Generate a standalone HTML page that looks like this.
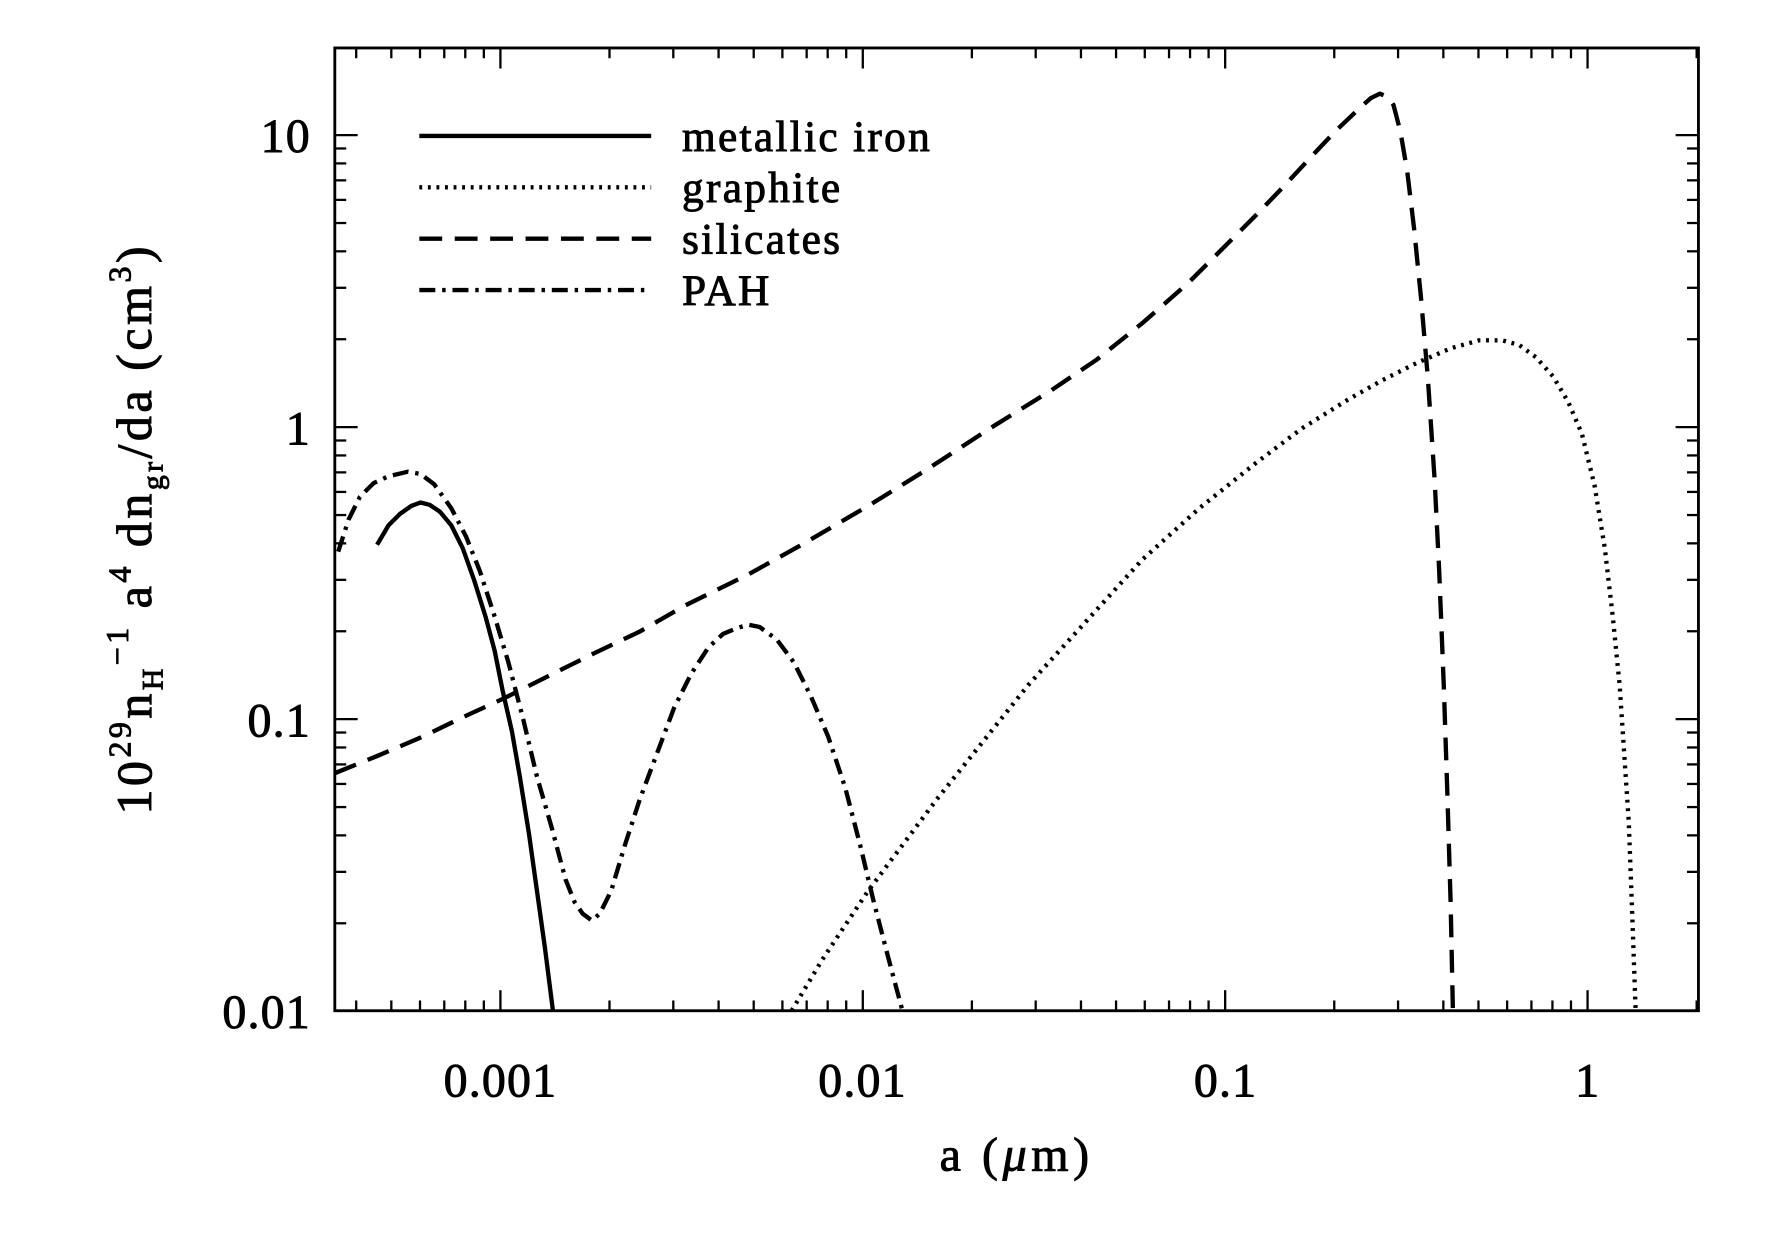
<!DOCTYPE html>
<html><head><meta charset="utf-8"><style>
html,body{margin:0;padding:0;background:#fff}
svg{display:block}
text{font-family:"Liberation Serif",serif;fill:#000;stroke:#000;stroke-width:0.8}
</style></head><body>
<svg width="1782" height="1254" viewBox="0 0 1560 1098" xmlns="http://www.w3.org/2000/svg">
<rect x="0" y="0" width="1560" height="1098" fill="#fff"/>
<g id="ticks" stroke="#000" stroke-width="2" fill="none"></g>
<rect x="293" y="42" width="1194" height="843" fill="none" stroke="#000" stroke-width="2.5"/>
<g fill="none" stroke="#000" stroke-width="3.8" stroke-linejoin="round">
<polyline points="330,477 340,460 350,450 360,443 368,440 376,442 385,448 395,460 405,480 415,508 425,540 433,570 440,605 448,640 455,680 463,730 470,780 477,830 484,885"/>
<polyline stroke-dasharray="2.5,5" points="693,885 705,865 720,840 740,810 760,780 790,740 820,700 860,650 900,600 950,545 1000,490 1050,445 1100,405 1140,375 1180,350 1210,333 1240,318 1270,305 1295,298 1315,298 1330,302 1345,313 1360,330 1373,352 1385,380 1396,425 1405,480 1412,540 1418,600 1422,660 1426,720 1429,800 1432,885"/>
<polyline stroke-dasharray="20,11" points="293,677 330,662 370,645 405,628 440,612 480,592 520,572 560,553 600,530 655,503 700,478 760,443 810,412 870,373 920,342 960,315 1000,283 1040,248 1073,215 1100,188 1125,162 1150,135 1170,114 1190,95 1200,86 1208,82 1215,85 1220,92 1226,115 1232,150 1238,200 1244,260 1250,330 1256,420 1260,500 1264,600 1267,690 1270,790 1272,885"/>
<polyline stroke-dasharray="14,6,3,6" points="296,483 305,455 315,435 327,423 340,417 357,413 368,415 380,424 395,445 408,470 420,500 433,540 445,580 458,630 470,680 483,725 495,770 503,790 510,800 518,806 525,800 535,780 547,740 560,700 575,660 590,620 605,590 620,567 633,555 645,550 655,547 665,549 680,560 695,580 710,610 725,645 740,690 753,740 765,790 778,840 790,885"/>
</g>
<g stroke="#000" stroke-width="3.8" fill="none">
<line x1="367" y1="119" x2="570" y2="119"/>
<line x1="367" y1="164" x2="570" y2="164" stroke-dasharray="2.5,5"/>
<line x1="367" y1="209" x2="570" y2="209" stroke-dasharray="20,11"/>
<line x1="367" y1="254" x2="570" y2="254" stroke-dasharray="14,6,3,6"/>
</g>
<g font-size="38" letter-spacing="2">
<text x="597" y="132">metallic iron</text>
<text x="597" y="177">graphite</text>
<text x="597" y="222">silicates</text>
<text x="597" y="267">PAH</text>
</g>
<g font-size="42" text-anchor="end" letter-spacing="1">
<text x="272" y="133">10</text>
<text x="272" y="389">1</text>
<text x="272" y="645">0.1</text>
<text x="272" y="900">0.01</text>
</g>
<g font-size="42" text-anchor="middle" letter-spacing="1">
<text x="438" y="960">0.001</text>
<text x="755" y="960">0.01</text>
<text x="1073" y="960">0.1</text>
<text x="1390" y="960">1</text>
<text x="890" y="1025" letter-spacing="4">a (<tspan font-style="italic">μ</tspan>m)</text>
</g>
<text font-size="44" letter-spacing="3" transform="translate(132,463) rotate(-90)" text-anchor="middle">10<tspan font-size="28" dy="-18">29</tspan><tspan dy="18">n</tspan><tspan font-size="26" dy="10">H</tspan><tspan font-size="28" dy="-30">−1</tspan><tspan dy="20"> a</tspan><tspan font-size="28" dy="-18">4</tspan><tspan dy="18"> dn</tspan><tspan font-size="26" dy="10">gr</tspan><tspan dy="-10">/da (cm</tspan><tspan font-size="28" dy="-18">3</tspan><tspan dy="18">)</tspan></text>
</svg>
<script>
var g=document.getElementById('ticks'),s='';
function L(a,b,c,d){s+='<line x1="'+a+'" y1="'+b+'" x2="'+c+'" y2="'+d+'"/>';}
var L0=293,R=1487,T=42,B=885;
var xd=317.3,x0=438;
for(var e=-4;e<=0;e++){for(var m=1;m<10;m++){var x=x0+(e+3+Math.log10(m))*xd;if(x<=L0||x>=R)continue;var len=m==1?18:9;L(x,B,x,B-len);L(x,T,x,T+len);}}
var yd=255.7,y0=374;
for(var e=-3;e<=1;e++){for(var m=1;m<10;m++){var y=y0-(e+Math.log10(m))*yd;if(y>=B||y<=T)continue;var len=m==1?20:10;L(L0,y,L0+len,y);L(R,y,R-len,y);}}
g.innerHTML=s;
</script>
</body></html>
